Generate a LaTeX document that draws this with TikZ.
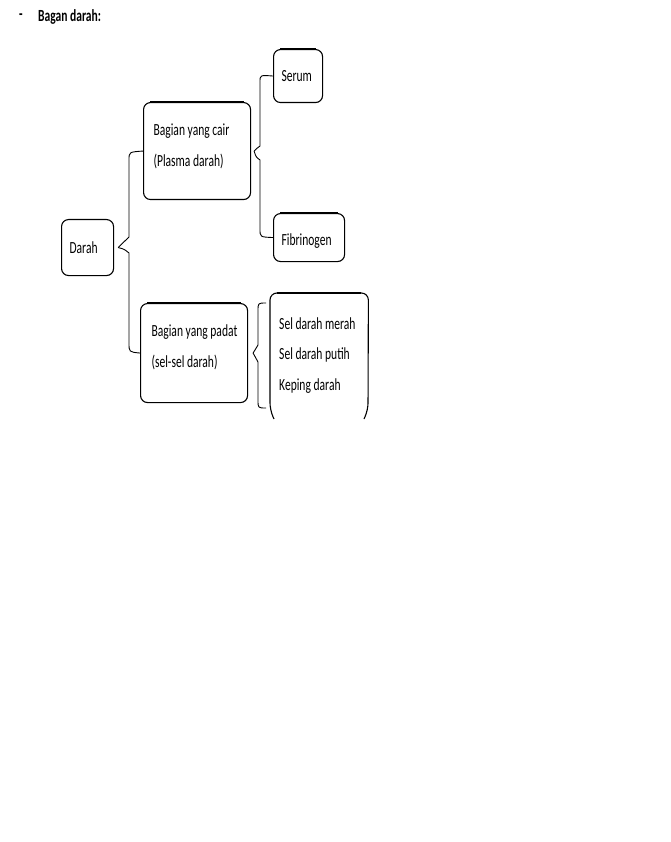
\documentclass[tikz,border=0pt]{standalone}
\usepackage{fontspec}
\setmainfont{Carlito}[FakeStretch=0.68]
\begin{document}
\begin{tikzpicture}[x=1pt,y=-1pt,
  box/.style={draw, line width=1.1pt, rounded corners=7pt, anchor=north west, inner ysep=0pt, align=flush left,
    font=\fontsize{17}{31}\selectfont},
  txt/.style={inner ysep=0pt, align=flush left, font=\fontsize{17}{30.5}\selectfont},
  brace/.style={draw, line width=0.9pt},
  topline/.style={line width=2.6pt}]
\useasboundingbox (0,0) rectangle (670,842);
% title
\node[inner sep=0pt, anchor=west, font=\fontsize{17}{20}\selectfont\bfseries] (dash) at (19,17) {-};
\node[inner sep=0pt, anchor=west, font=\fontsize{17}{20}\selectfont\bfseries] (title) at (38,17) {Bagan darah:};
% boxes
\node[box, inner xsep=8pt, text width=36pt, minimum height=56pt] (darah) at (61,219) {\mbox{Darah}};
\node[box, inner xsep=10pt, text width=87pt, minimum height=97pt, text depth=43pt] (cair) at (143,102) {\mbox{Bagian yang cair}\\\mbox{(Plasma darah)}};
\node[box, inner xsep=8pt, text width=33pt, minimum height=53pt] (serum) at (273,49) {\mbox{Serum}};
\node[box, inner xsep=8pt, text width=55pt, minimum height=48pt, text height=19pt] (fibrin) at (273,213) {\mbox{Fibrinogen}};
\node[box, inner xsep=11pt, text width=85pt, minimum height=99pt, text depth=44pt] (padat) at (140,303) {\mbox{Bagian yang padat}\\\mbox{(sel-sel darah)}};
\node[txt, inner xsep=9pt, text width=80pt, minimum height=124pt, anchor=north west] (sel) at (270,293) {\mbox{Sel darah merah}\\\mbox{Sel darah putih}\\\mbox{Keping darah}};
% open box for cells
\draw[line width=1.1pt, rounded corners=7pt] (274,419) -- (270,410) -- (sel.north west) -- (sel.north east) -- (368,410) -- (364,419);
% thick top borders
\foreach \n in {cair,serum,fibrin,padat,sel} {
  \draw[topline] ([xshift=7pt]\n.north west) -- ([xshift=-7pt]\n.north east);
}
% braces
\draw[brace] ([xshift=4pt]darah.east) .. controls (124,243) .. (129,237) -- (129,160) .. controls (129,152) .. (cair.west);
\draw[brace] ([xshift=4pt]darah.east) .. controls (124,249) .. (129,253) -- (129,343) .. controls (129,352) .. (padat.west);
\draw[brace] ([xshift=3pt]cair.east) .. controls (256,149) .. (260,146) -- (260,82) .. controls (260,75) .. (serum.west);
\draw[brace] ([xshift=3pt]cair.east) .. controls (256,157) .. (260,160) -- (260,229) .. controls (260,237) .. (fibrin.west);
\draw[brace] ([xshift=5pt]padat.east) .. controls (255,350) .. (258,345) -- (258,311) .. controls (258,303) .. (266,303);
\draw[brace] ([xshift=5pt]padat.east) .. controls (255,357) .. (258,362) -- (258,400) .. controls (258,408) .. (266,408);
\end{tikzpicture}
\end{document}
